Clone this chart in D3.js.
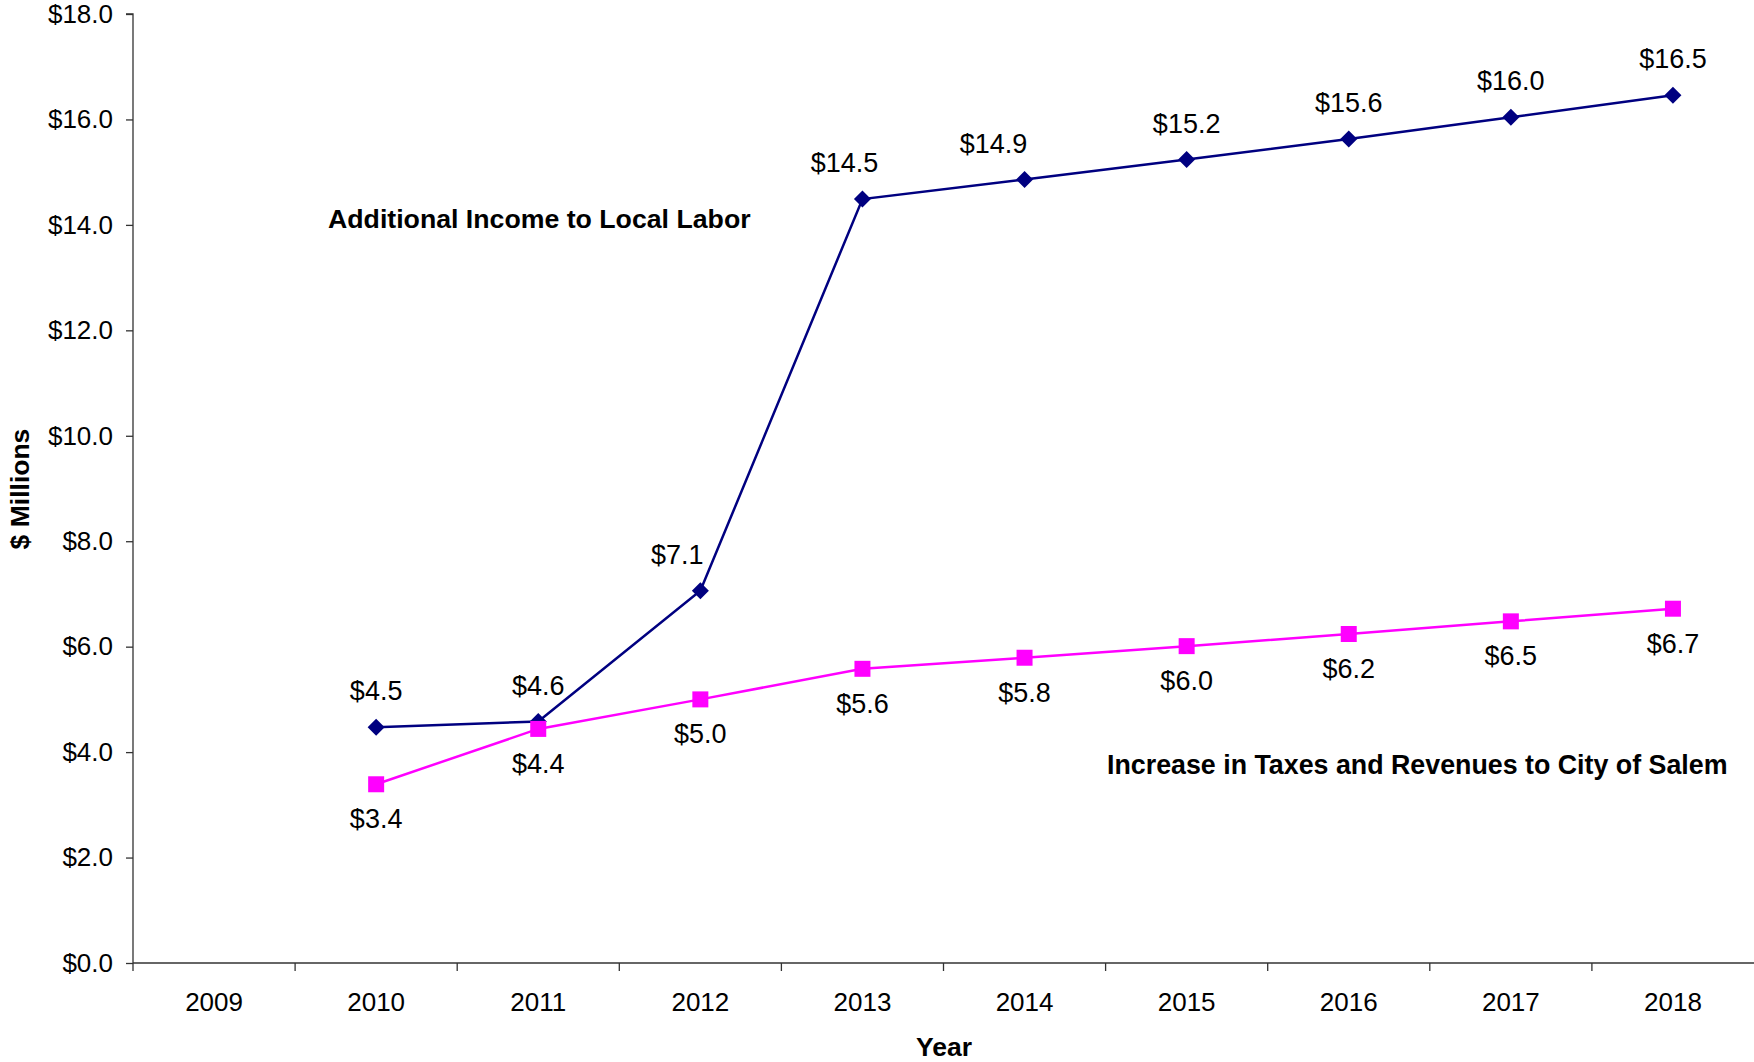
<!DOCTYPE html>
<html>
<head>
<meta charset="utf-8">
<script src="https://cdn.jsdelivr.net/npm/d3@7"></script>
<style>
  body { margin: 0; background: #fff; }
  text { font-family: "Liberation Sans", Arial, sans-serif; fill: #000; }
  .axis path, .axis line { stroke: #333; stroke-width: 1.3; }
  .axis text { font-size: 26px; }
</style>
</head>
<body>
<script>
// Salem: labor income and city revenues, $ millions
var years = ["2009", "2010", "2011", "2012", "2013", "2014", "2015", "2016", "2017", "2018"];
var seriesYears = ["2010", "2011", "2012", "2013", "2014", "2015", "2016", "2017", "2018"];
var laborIncome = [4.47, 4.58, 7.06, 14.49, 14.86, 15.24, 15.63, 16.04, 16.46];
var cityRevenue = [3.39, 4.44, 5.0, 5.58, 5.79, 6.01, 6.24, 6.48, 6.72];
var yTicks = [0, 2, 4, 6, 8, 10, 12, 14, 16, 18];

var margin = ({top: 14, right: 0, bottom: 99, left: 133});
var width = 1754 - margin.left - margin.right;
var height = 1062 - margin.top - margin.bottom;

var x = d3.scaleBand()
    .domain(years)
    .range([0, width]);

var y = d3.scaleLinear()
    .domain([0, 18])
    .range([height, 0]);

var svg = d3.select("body").append("svg")
    .attr("width", width + margin.left + margin.right)
    .attr("height", height + margin.top + margin.bottom)
  .append("g")
    .attr("transform", "translate(" + margin.left + "," + margin.top + ")");

// y axis
var yAxis = d3.axisLeft(y)
    .tickValues(yTicks)
    .tickSize(7)
    .tickPadding(13)
    .tickFormat(function(d) { return "$" + d.toFixed(1); });

svg.append("g")
    .attr("class", "y axis")
    .call(yAxis)
    .call(function(g) { g.select(".domain").attr("d", "M0," + (height + 8) + "V0H-7"); });

// x axis - labels centred in bands, ticks on band edges
var xAxis = d3.axisBottom(x).tickSize(0);

var gx = svg.append("g")
    .attr("class", "x axis")
    .attr("transform", "translate(0," + height + ")")
    .call(xAxis);

gx.select(".domain").attr("d", "M0,0H" + width);
gx.selectAll(".tick text").attr("y", 48).attr("dy", 0);

gx.selectAll(".edge")
    .data(years.slice(1))
  .enter().append("line")
    .attr("class", "edge")
    .attr("x1", function(d) { return x(d); })
    .attr("x2", function(d) { return x(d); })
    .attr("y1", 0)
    .attr("y2", 8);

// axis titles
svg.append("text")
    .attr("transform", "translate(" + (29 - margin.left) + "," + (489 - margin.top) + ") rotate(-90)")
    .attr("text-anchor", "middle")
    .style("font-size", "26.5px")
    .style("font-weight", "bold")
    .text("$ Millions");

svg.append("text")
    .attr("x", 944 - margin.left)
    .attr("y", 1056 - margin.top)
    .attr("text-anchor", "middle")
    .style("font-size", "26.5px")
    .style("font-weight", "bold")
    .text("Year");

var cx = function(d) { return x(d.year) + x.bandwidth() / 2; };

var line = d3.line()
    .x(cx)
    .y(function(d) { return y(d.value); });

var diamond = {
  draw: function(ctx, size) {
    var r = Math.sqrt(size) / 2;
    ctx.moveTo(0, -r); ctx.lineTo(r, 0); ctx.lineTo(0, r); ctx.lineTo(-r, 0); ctx.closePath();
  }
};

var labor = seriesYears.map(function(yr, i) { return {year: yr, value: laborIncome[i]}; });
var revenue = seriesYears.map(function(yr, i) { return {year: yr, value: cityRevenue[i]}; });

// nudges for a few labels that sit off the steep segment
var laborLabelDx = {"2012": -23, "2013": -18, "2014": -31};

function drawSeries(data, color, symbolType, symbolSize, labelDy, dxMap) {
  svg.append("path")
      .datum(data)
      .attr("fill", "none")
      .attr("stroke", color)
      .attr("stroke-width", 2.5)
      .attr("d", line);

  svg.selectAll(null)
      .data(data)
    .enter().append("path")
      .attr("transform", function(d) { return "translate(" + cx(d) + "," + y(d.value) + ")"; })
      .attr("fill", color)
      .attr("d", d3.symbol().type(symbolType).size(symbolSize));

  svg.selectAll(null)
      .data(data)
    .enter().append("text")
      .attr("x", function(d) { return cx(d) + ((dxMap && dxMap[d.year]) || 0); })
      .attr("y", function(d) { return y(d.value) + labelDy; })
      .attr("text-anchor", "middle")
      .style("font-size", "27px")
      .text(function(d) { return "$" + d.value.toFixed(1); });
}

drawSeries(labor, "#000080", diamond, 289, -27, laborLabelDx);
drawSeries(revenue, "#ff00ff", d3.symbolSquare, 256, 44, null);

// series annotations
svg.append("text")
    .attr("x", 328 - margin.left)
    .attr("y", 228 - margin.top)
    .style("font-size", "26.7px")
    .style("font-weight", "bold")
    .text("Additional Income to Local Labor");

svg.append("text")
    .attr("x", 1107 - margin.left)
    .attr("y", 774 - margin.top)
    .style("font-size", "26.8px")
    .style("font-weight", "bold")
    .text("Increase in Taxes and Revenues to City of Salem");
</script>
</body>
</html>
